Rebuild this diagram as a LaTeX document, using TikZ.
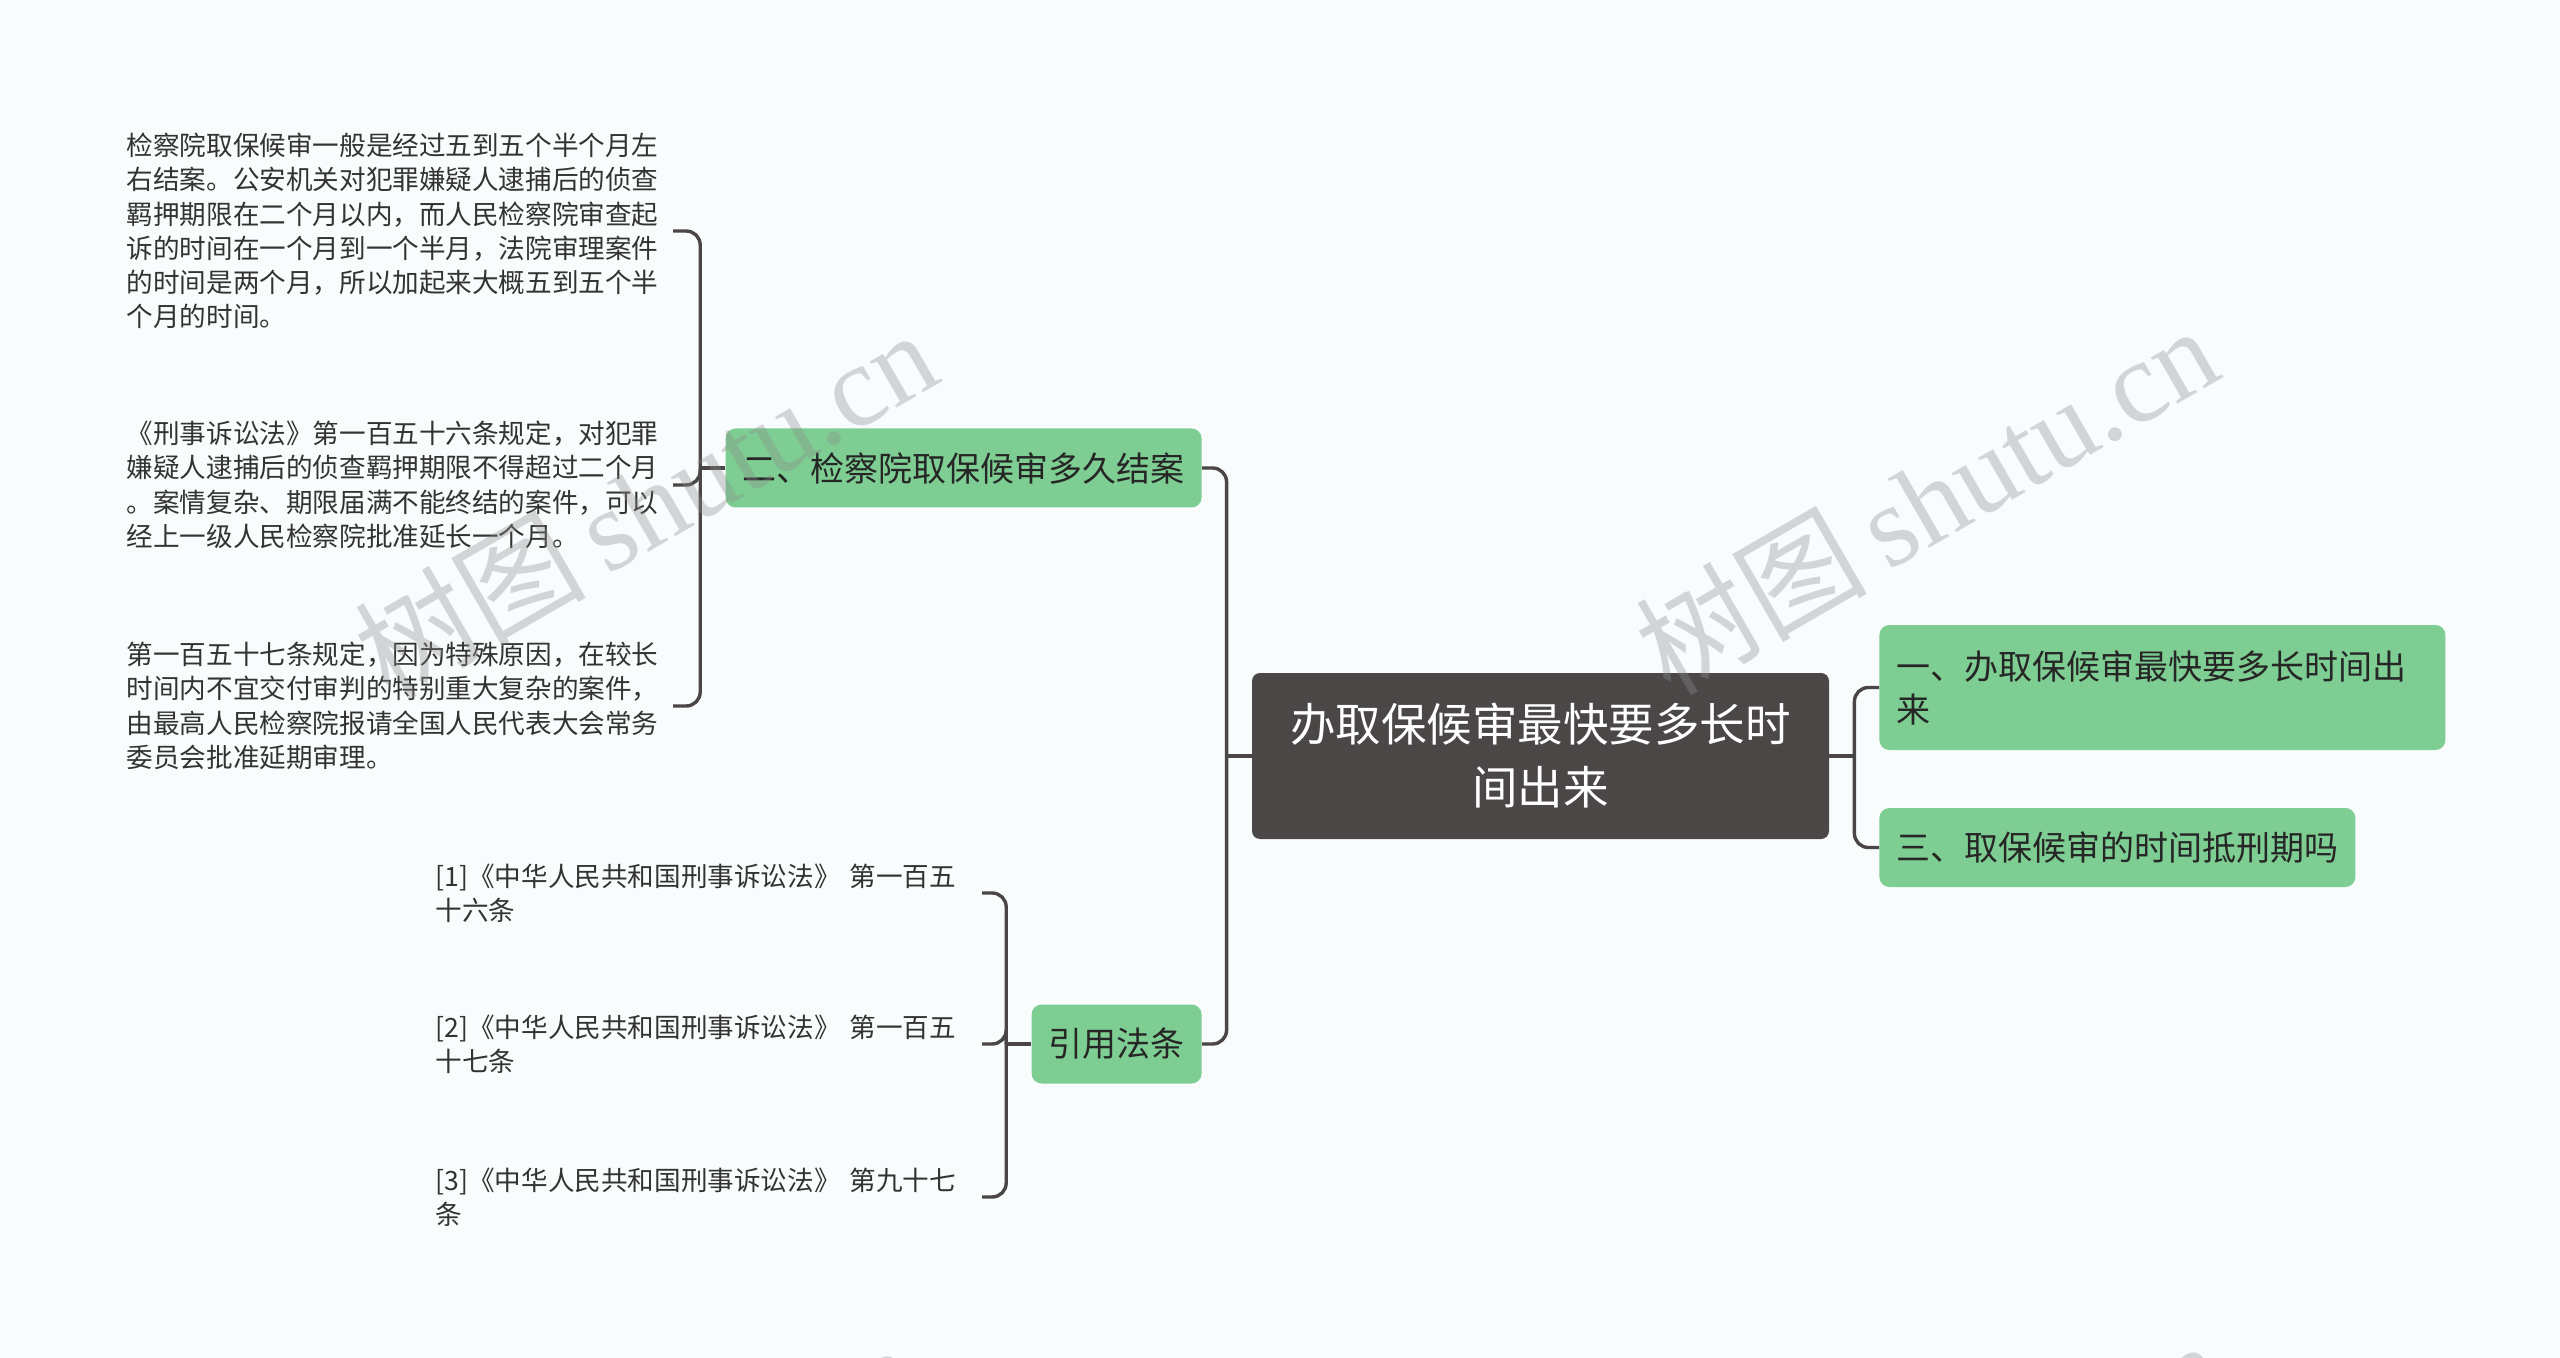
\documentclass[tikz,border=0pt]{standalone}
\usepackage{fontspec}
\setmainfont{Noto Sans CJK SC}
\newfontfamily\wmfont{Liberation Serif}
\usetikzlibrary{positioning,calc}
\definecolor{rootfill}{HTML}{4B4747}
\definecolor{branchfill}{HTML}{7ECD92}
\definecolor{linkcol}{HTML}{4A4646}
\definecolor{leaftext}{HTML}{333333}
\definecolor{canvas}{HTML}{F8FCFD}

\begin{document}
\begin{tikzpicture}[x=0.5pt, y=-0.5pt,
  root/.style={rectangle, rounded corners=4pt, fill=rootfill, text=white,
               minimum width=288.5pt, minimum height=83pt, align=center,
               font=\fontsize{22.75}{31.5}\selectfont},
  branch/.style={rectangle, rounded corners=5pt, fill=branchfill, text=black!85,
                 inner xsep=8.5pt, inner ysep=0pt, minimum height=39.5pt,
                 font=\fontsize{17}{21.5}\selectfont},
  leaf/.style={inner sep=0pt, text width=273pt, align=left, text=leaftext,
               font=\fontsize{13.3}{17.15}\selectfont},
  link/.style={draw=linkcol, line width=1.7pt, rounded corners=7pt},
  watermark/.style={rotate=30, text=black!45, opacity=0.35,
                    font=\fontsize{58}{58}\selectfont},
]
  \fill[canvas] (0,0) rectangle (2560,1358);
  \useasboundingbox (0,0) rectangle (2560,1358);

  % centre
  \node[root] (root) at (1540.5,756) {办取保候审最快要多长时\\间出来};

  % right side
  \node[branch, anchor=west, text width=266pt, align=left, minimum height=62.5pt]
    (fastest) at (1879,687.5) {一、办取保候审最快要多长时间出\\来};
  \node[branch, anchor=west] (offset) at (1879,847.5) {三、取保候审的时间抵刑期吗};

  % left side
  \node[branch, anchor=east] (prosec) at (1202,468) {二、检察院取保候审多久结案};
  \node[branch, anchor=east] (cites) at (1202,1044) {引用法条};

  \node[leaf, anchor=east] (termA) at (673,231) {检察院取保候审一般是经过五到五个半个月左\\
    右结案。公安机关对犯罪嫌疑人逮捕后的侦查\\
    羁押期限在二个月以内，而人民检察院审查起\\
    诉的时间在一个月到一个半月，法院审理案件\\
    的时间是两个月，所以加起来大概五到五个半\\
    个月的时间。};
  \node[leaf, anchor=east] (termB) at (673,485) {《刑事诉讼法》第一百五十六条规定，对犯罪\\
    嫌疑人逮捕后的侦查羁押期限不得超过二个月\\
    。案情复杂、期限届满不能终结的案件，可以\\
    经上一级人民检察院批准延长一个月。};
  \node[leaf, anchor=east] (termC) at (673,706) {第一百五十七条规定，因为特殊原因，在较长\\
    时间内不宜交付审判的特别重大复杂的案件，\\
    由最高人民检察院报请全国人民代表大会常务\\
    委员会批准延期审理。};

  \node[leaf, anchor=east] (law1) at (982,893) {[1]《中华人民共和国刑事诉讼法》 第一百五\\十六条};
  \node[leaf, anchor=east] (law2) at (982,1044) {[2]《中华人民共和国刑事诉讼法》 第一百五\\十七条};
  \node[leaf, anchor=east] (law3) at (982,1197) {[3]《中华人民共和国刑事诉讼法》 第九十七\\条};

  % connectors
  \coordinate (jl) at ([xshift=-12.5pt]root.west);
  \coordinate (jr) at ([xshift=12.5pt]root.east);
  \coordinate (jp) at ([xshift=-12.5pt]prosec.west);
  \coordinate (jc) at ([xshift=-12.5pt]cites.west);

  \draw[link] (root.west) -- (jl);
  \draw[link] (jl) |- (prosec.east);
  \draw[link] (jl) |- (cites.east);

  \draw[link] (root.east) -- (jr);
  \draw[link] (jr) |- (fastest.west);
  \draw[link] (jr) |- (offset.west);

  \draw[link] (prosec.west) -- (jp);
  \foreach \n in {termA,termB,termC}
    \draw[link] (jp) |- (\n.east);

  \draw[link] (cites.west) -- (jc);
  \foreach \n in {law1,law2,law3}
    \draw[link] (jc) |- (\n.east);

  % watermark
  \foreach \wx/\wy in {645/503,1926/499,627/1518,1933/1514}
    \node[watermark] (wm\wx) at (\wx,\wy) {树图\,{\wmfont shutu.cn}};
\end{tikzpicture}
\end{document}
